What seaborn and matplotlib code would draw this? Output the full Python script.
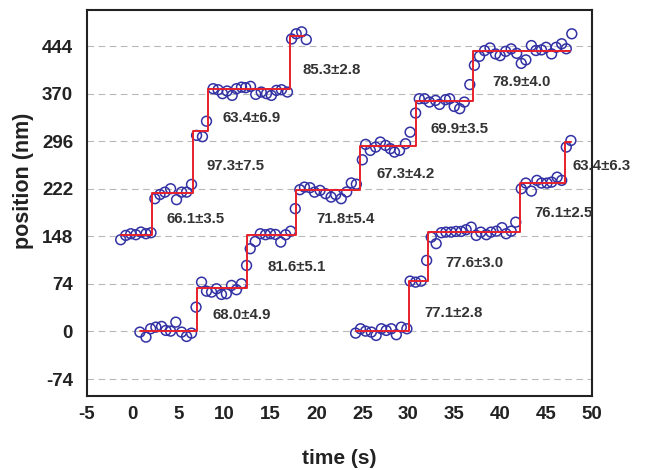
import matplotlib
matplotlib.use("Agg")
import matplotlib.pyplot as plt
import seaborn as sns
import pandas as pd

# ---------------- data ----------------
# trace 1 (starts near 148 nm)
t1_time = [-1.3, -0.75, -0.2, 0.35, 0.9, 1.45, 2.0, 2.42, 2.97, 3.51, 4.13, 4.78, 5.33,
           5.87, 6.41, 6.96, 7.6, 8.04, 8.76, 9.3, 9.78, 10.28, 10.83, 11.3, 11.85, 12.3,
           12.83, 13.4, 14.0, 14.57, 15.1, 15.65, 16.2, 16.85, 17.3, 17.8, 18.4, 18.9]
t1_pos = [142.7, 149.4, 152, 150.5, 154.6, 152, 153.6, 206.5, 213, 216.7, 222, 205, 216.7,
          216.7, 228.7, 305, 303, 327, 377.6, 376, 369.9, 374, 367.2, 377.6, 380, 379.2,
          381.2, 368.8, 372.4, 369.9, 367.2, 375, 376, 372.4, 455, 463, 466, 454]
t1_step_time = [-1.3, 2.15, 6.6, 8.2, 17.1, 18.6]
t1_step_level = [150, 215, 312, 377, 460, 460]

# trace 2 (starts at 0 nm, t ~ 1 s)
t2_time = [0.79, 1.45, 1.96, 2.53, 3.15, 3.62, 4.13, 4.7, 5.33, 5.87, 6.41, 6.9, 7.5,
           8.04, 8.59, 9.13, 9.67, 10.2, 10.76, 11.3, 11.85, 12.4, 12.8, 13.35, 13.9,
           14.46, 15.0, 15.54, 16.12, 16.66, 17.2, 17.7, 18.2, 18.7, 19.3, 19.8, 20.4,
           21.0, 21.6, 22.1, 22.7, 23.3, 23.8, 24.35, 25.0, 25.36, 25.87, 26.45, 26.96,
           27.53, 28.04, 28.5, 29.05, 29.7, 30.2, 30.8, 31.2, 31.77, 32.3, 32.97, 33.4,
           34.06, 34.5, 35.0, 35.6, 36.1, 36.7, 37.2, 37.75, 38.3, 38.9, 39.5, 40.0,
           40.6, 41.2, 41.8, 42.3, 42.8, 43.4, 43.9, 44.5, 45.0, 45.6, 46.1, 46.7, 47.2,
           47.8]
t2_pos = [-1, -8.8, 4.2, 6.7, 7.8, 1.6, 0.5, 14.5, -1, -7.8, -2.6, 37.8, 76.7,
          62.7, 61.2, 66.4, 57.6, 58.7, 71.6, 64.9, 74.2, 102.7, 128.7, 140, 152,
          150.5, 152, 150.9, 139, 150.5, 156, 191, 220.5, 224.5, 223.6, 216.7, 219.4,
          214.3, 209, 213, 206.5, 217, 231, 229, 267, 291, 281.6, 286.8, 294.6,
          289.4, 284.3, 279, 281.6, 292, 310, 339.7, 362, 362, 356.8, 359.4, 353.2,
          360.5, 362, 350, 346.5, 356.8, 384, 414, 428, 436.8, 441, 431.7, 429,
          435.7, 439.5, 432.6, 417, 422.4, 444.7, 437, 438, 442, 431.7, 442, 447.5, 439.7,
          463]
t2_step_time = [0.8, 7.0, 12.5, 17.8, 24.8, 30.8, 37.0, 47.6]
t2_step_level = [1, 68, 150, 220, 289, 359, 437, 437]

# trace 3 (starts at 0 nm, t ~ 24 s)
t3_time = [24.27, 24.8, 25.36, 25.98, 26.5, 27.07, 27.6, 28.15, 28.7, 29.24, 29.85,
           30.2, 30.8, 31.4, 32.0, 32.5, 33.04, 33.6, 34.1, 34.67, 35.2, 35.76, 36.3,
           36.85, 37.4, 37.9, 38.5, 39.0, 39.6, 40.2, 40.65, 41.2, 41.7, 42.3, 42.8,
           43.4, 44.0, 44.5, 45.1, 45.6, 46.2, 46.7, 47.2, 47.7]
t3_pos = [-2.6, 4.2, 0.5, -1, -6.2, 4.2, 1.6, 4.2, -5.1, 6.7, 4.2,
          78.3, 76.7, 78.3, 110.5, 146.7, 136.6, 153.6, 154.5, 154.5, 155.6, 155.6, 158.3,
          162.3, 149.4, 154.5, 150.5, 154.5, 156, 161.4, 152, 156, 170, 222, 230.8,
          218.3, 235, 230.8, 230.8, 232.3, 240, 235, 286.8, 297]
t3_step_time = [24.3, 30.1, 32.1, 42.2, 47.1, 47.7]
t3_step_level = [1, 78, 155, 231, 294, 294]

step_labels = ["66.1\u00b13.5", "97.3\u00b17.5", "63.4\u00b16.9", "85.3\u00b12.8",
               "68.0\u00b14.9", "81.6\u00b15.1", "71.8\u00b15.4", "67.3\u00b14.2",
               "69.9\u00b13.5", "78.9\u00b14.0", "77.1\u00b12.8", "77.6\u00b13.0",
               "76.1\u00b12.5", "63.4\u00b16.3"]
label_anchor = [(6.83, 175), (11.18, 258), (12.99, 332), (21.7, 406),
                (11.9, 25), (17.86, 101), (23.16, 175), (29.74, 245),
                (35.58, 315), (42.3, 388), (34.93, 29), (37.17, 106),
                (46.9, 184), (51.0, 258)]

x_ticks = [-5, 0, 5, 10, 15, 20, 25, 30, 35, 40, 45, 50]
y_ticks = [-74, 0, 74, 148, 222, 296, 370, 444]

# ---------------- style ----------------
sns.set_style("white")
plt.rcParams["font.family"] = ["Liberation Sans", "DejaVu Sans"]
plt.rcParams["font.weight"] = "bold"
plt.rcParams["axes.unicode_minus"] = False

fig = plt.figure(figsize=(6.48, 4.70), dpi=100)
ax = fig.add_axes([0.1338, 0.158, 0.9136 - 0.1338, 0.9787 - 0.158])

# grid
for yv in y_ticks:
    ax.axhline(yv, color="#b8b8b8", lw=0.8, ls=(0, (6, 4)), zorder=0)

circle_col = "#3232a4"
red_col = "#e8202a"

traces = [(t1_time, t1_pos, t1_step_time, t1_step_level),
          (t2_time, t2_pos, t2_step_time, t2_step_level),
          (t3_time, t3_pos, t3_step_time, t3_step_level)]

for tt, pp, st, sl in traces:
    df = pd.DataFrame({"time": tt, "pos": pp})
    sns.scatterplot(data=df, x="time", y="pos", ax=ax, marker="o", s=50,
                    facecolor="none", edgecolor=circle_col, linewidth=1.1,
                    zorder=2, legend=False)
    ds = pd.DataFrame({"time": st, "pos": sl})
    sns.lineplot(data=ds, x="time", y="pos", ax=ax, color=red_col, lw=1.4,
                 drawstyle="steps-post", estimator=None, sort=False, zorder=3,
                 legend=False)

for lab, (xa, ya) in zip(step_labels, label_anchor):
    ax.text(xa, ya, lab, ha="center", va="center", fontsize=10.8,
            fontweight="bold", color="#333333", clip_on=False)

ax.set_xlim(-5, 50)
ax.set_ylim(-100, 500)
ax.set_xticks(x_ticks)
ax.set_yticks(y_ticks)
ax.tick_params(axis="both", direction="out", length=4.8, width=1.3,
               color="#222222", labelsize=13.5, labelcolor="#222222")
ax.tick_params(axis="y", pad=5)
ax.tick_params(axis="x", pad=2.5)
for lab in ax.get_xticklabels() + ax.get_yticklabels():
    lab.set_fontweight("bold")

for sp in ax.spines.values():
    sp.set_visible(True)
    sp.set_color("#222222")
    sp.set_linewidth(1.5)

ax.set_xlabel("time (s)", fontsize=15, fontweight="bold", color="#222222", labelpad=19)
ax.set_ylabel("position (nm)", fontsize=15.5, fontweight="bold", color="#222222")
ax.yaxis.set_label_coords(-0.105, 0.557)

fig.savefig("out.png", dpi=100)
